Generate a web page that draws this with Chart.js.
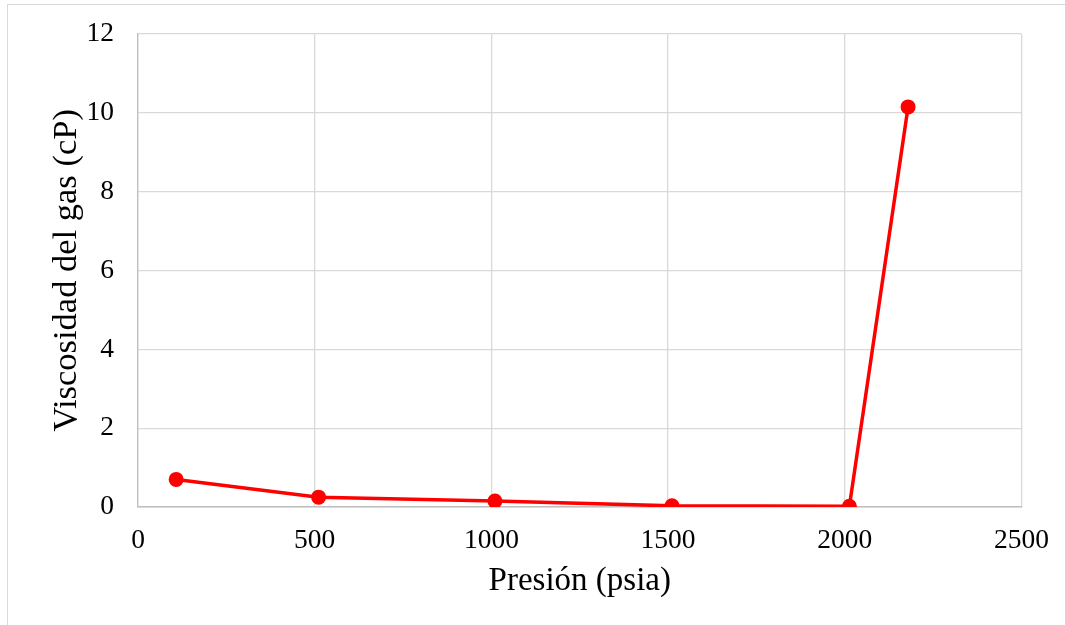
<!DOCTYPE html>
<html>
<head>
<meta charset="utf-8">
<title>Viscosidad del gas</title>
<script src="https://cdn.jsdelivr.net/npm/chart.js@4/dist/chart.umd.min.js"></script>
<style>
  html, body { margin: 0; padding: 0; background: #ffffff; overflow: hidden; }
  #frame {
    position: absolute; left: 7px; top: 4px; width: 1100px; height: 700px;
    border-top: 1.5px solid #d9d9d9; border-left: 1.5px solid #d9d9d9;
  }
  #chart { position: absolute; left: 0; top: 0; }
</style>
</head>
<body>
<div id="frame"></div>
<canvas id="chart" width="1065" height="625"></canvas>
<script>
// Presión (psia) y viscosidad del gas (cP)
const presion = [108, 511, 1010, 1511, 2013, 2179];
const viscosidad = [0.70, 0.25, 0.15, 0.03, 0.02, 10.15];

// Ejes
const xTicks = [0, 500, 1000, 1500, 2000, 2500];
const yTicks = [0, 2, 4, 6, 8, 10, 12];

const tituloX = 'Presión (psia)';
const tituloY = 'Viscosidad del gas (cP)';

const puntos = presion.map((p, i) => ({ x: p, y: viscosidad[i] }));

const fuente = 'Liberation Serif, "Times New Roman", serif';
const gris = '#d9d9d9';

new Chart(document.getElementById('chart'), {
  type: 'scatter',
  data: {
    datasets: [{
      data: puntos,
      showLine: true,
      borderColor: '#ff0000',
      backgroundColor: '#ff0000',
      borderWidth: 3.5,
      pointRadius: 7.5,
      pointBorderWidth: 0,
      pointBackgroundColor: '#ff0000',
      tension: 0
    }]
  },
  options: {
    responsive: false,
    animation: false,
    layout: { autoPadding: false, padding: { top: 34, right: 43.5, left: 0, bottom: 0 } },
    plugins: { legend: { display: false }, tooltip: { enabled: false } },
    scales: {
      x: {
        type: 'linear',
        min: xTicks[0],
        max: xTicks[xTicks.length - 1],
        afterBuildTicks: s => { s.ticks = xTicks.map(v => ({ value: v })); },
        grid: { color: gris, lineWidth: 1.3, drawTicks: false },
        border: { color: '#bfbfbf', width: 1.5 },
        ticks: {
          color: '#000', font: { family: fuente, size: 27.5 }, padding: 17, maxRotation: 0,
          callback: v => String(v)
        },
        title: {
          display: true, text: tituloX, color: '#000',
          font: { family: fuente, size: 33 }, padding: { top: 0, bottom: 24 }
        },
        afterFit: s => { s.height = 118; s.paddingLeft = 0; s.paddingRight = 0; }
      },
      y: {
        type: 'linear',
        min: yTicks[0],
        max: yTicks[yTicks.length - 1],
        afterBuildTicks: s => { s.ticks = yTicks.map(v => ({ value: v })); },
        grid: { color: gris, lineWidth: 1.3, drawTicks: false },
        border: { color: '#bfbfbf', width: 1.3 },
        ticks: {
          color: '#000', font: { family: fuente, size: 27.5 }, padding: 24,
          callback: v => String(v)
        },
        title: {
          display: true, text: tituloY, color: '#000',
          font: { family: fuente, size: 34.5 }, padding: { top: 46, bottom: 46 }
        },
        afterFit: s => { s.width = 138; s.paddingTop = 0; s.paddingBottom = 0; }
      }
    }
  }
});
</script>
</body>
</html>
